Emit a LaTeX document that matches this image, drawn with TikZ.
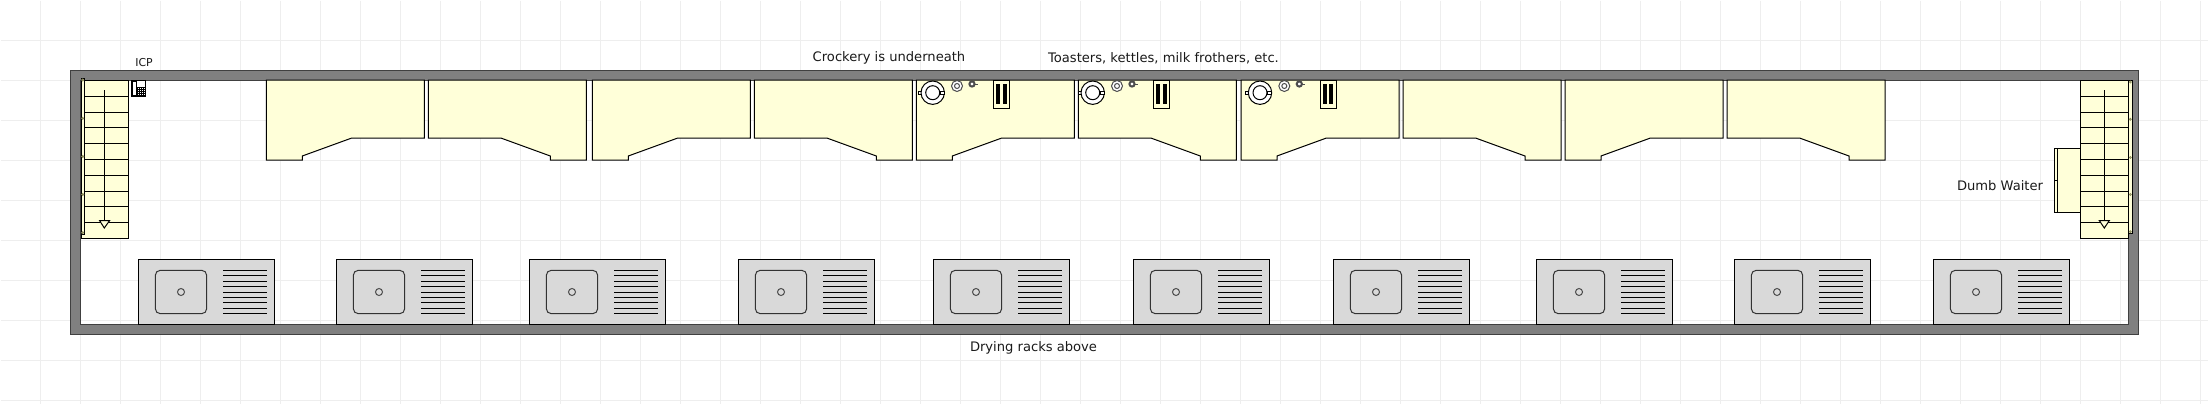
\documentclass[tikz,border=0pt]{standalone}
\usepackage{fontspec}
\setmainfont{DejaVu Sans}
\definecolor{wallc}{HTML}{808080}
\definecolor{walle}{HTML}{404040}
\definecolor{cream}{HTML}{FFFFD9}
\definecolor{sinkc}{HTML}{D9D9D9}
\definecolor{gridc}{HTML}{EEEEEE}
\definecolor{railc}{HTML}{8C8C5A}
\definecolor{txt}{HTML}{1A1A1A}
\tikzset{
 counter/.style={draw=black,fill=cream,line width=1pt},
 stairb/.style={draw=black,fill=cream,line width=1pt},
 thin1/.style={draw=black,line width=1pt},
 lbl/.style={text=txt,font=\fontsize{13.1}{15}\selectfont,inner sep=0pt},
}
\newcommand{\ctrL}[1]{\draw[counter,shift={(#1,80)}] (0,0)--(158,0)--(158,58)--(85.5,58)--(36,76)--(36,80)--(0,80)--cycle;}
\newcommand{\ctrR}[1]{\draw[counter,shift={(#1,80)}] (0,0)--(158,0)--(158,80)--(122,80)--(122,76)--(72.5,58)--(0,58)--cycle;}
\newcommand{\sinkU}[1]{\begin{scope}[shift={(#1,259.3)}]
 \draw[thin1,fill=sinkc] (0,0) rectangle (136,65);
 \draw[draw=black!80,line width=1pt,rounded corners=5pt] (17,11) rectangle (68.4,54.4);
 \draw[draw=black!70,line width=1pt] (42.7,32.7) circle (3.5);
 \foreach \yy in {11,16.4,21.8,27.2,32.7,38.1,43.5,48.9,54.4}{\draw[thin1] (84.7,\yy)--(128.7,\yy);}
\end{scope}}
\newcommand{\appl}[2]{% kettle x, toaster x
 \draw[black,line width=1pt,fill=white] (#1-14.3,91) rectangle +(3,3);
 \draw[black,line width=1pt,fill=white] (#1,92.7) circle (11.7);
 \draw[black,line width=1pt,fill=white] (#1,92.7) circle (7);
 \draw[black,line width=1pt,fill=white] (#1+7.7,91) rectangle +(4,3);
 \draw[black!70,line width=1pt,fill=white] (#1+24.3,86) circle (5.5);
 \draw[black!70,line width=1pt,fill=white] (#1+24.3,86) circle (2.5);
 \draw[black!70,line width=1pt] (#1+39.3,84)--(#1+45,84);
 \draw[black!70,line width=2pt,fill=white] (#1+39.3,84) circle (2.6);
 \draw[black,line width=1pt,fill=cream] (#2,80) rectangle +(15.5,28.3);
 \fill[black] (#2+2.6,84) rectangle +(4,20);
 \fill[black] (#2+8.8,84) rectangle +(4,20);
}
\begin{document}
\begin{tikzpicture}[x=1pt,y=-1pt]
\useasboundingbox (0,0) rectangle (2208,404);
\fill[white] (0,0) rectangle (2208,404);
% grid
\foreach \xx in {40.5,80.5,...,2205}{\draw[gridc,line width=1pt] (\xx,1)--(\xx,404);}
\foreach \yy in {40.5,80.5,...,403}{\draw[gridc,line width=1pt] (1,\yy)--(2208,\yy);}
% walls
\draw[draw=walle,fill=wallc,line width=1pt,even odd rule] (70.3,70.3) rectangle (2138.3,334.3) (80.7,80.3) rectangle (2128.3,324.3);
% counters
\ctrL{266.3}\ctrR{428.3}\ctrL{592.3}\ctrR{754.3}\ctrL{916.3}\ctrR{1078.3}\ctrL{1241}\ctrR{1403}\ctrL{1565}\ctrR{1727}
% appliances
\appl{932.7}{993.7}
\appl{1092.7}{1153.7}
\appl{1260}{1320.5}
% sinks
\foreach \sx in {138.3,336.3,529.3,738.3,933.3,1133.3,1333.3,1536.3,1734.3,1933.3}{\sinkU{\sx}}
% left stairs
\draw[stairb] (81,80.3) rectangle (128.3,238.3);
\foreach \yy in {96.3,112.3,127.3,143.4,159.4,175.4,191.3,206.3,222.3}{\draw[thin1] (84.5,\yy)--(128.3,\yy);}
\draw[thin1] (104.3,90)--(104.3,228);
\draw[thin1,fill=cream] (99.6,220.6)--(109.6,220.6)--(104.3,228)--cycle;
\draw[stairb] (81,78.5) rectangle (84.5,234.3);
\foreach \yy in {80,118.3,156.5,194.5,232.7}{\draw[railc,line width=.8pt,fill=white] (82.7,\yy) circle (1);}
% right stairs
\draw[stairb] (2054.3,148.3) rectangle (2080.3,212.3);
\draw[thin1] (2057.6,148.3)--(2057.6,212.3) (2054.3,180)--(2057.6,180);
\draw[stairb] (2080.3,80.3) rectangle (2128.3,238.3);
\foreach \yy in {96.3,112.3,127.3,143.4,159.4,175.4,191.3,206.3,222.3}{\draw[thin1] (2080.3,\yy)--(2128.3,\yy);}
\draw[thin1] (2104.3,90)--(2104.3,228);
\draw[thin1,fill=cream] (2099.3,220.6)--(2109.3,220.6)--(2104.3,228)--cycle;
\draw[stairb] (2128.3,80.3) rectangle (2132.3,233.3);
\foreach \yy in {82,119.3,157.5,194.5,231.7}{\draw[railc,line width=.8pt,fill=white] (2130.3,\yy) circle (1);}
% phone
\draw[black,line width=1pt,fill=white] (131.7,80.5) rectangle (145.7,96);
\draw[black,line width=1.3pt,fill=white] (132.4,81) rectangle (136.6,95.5);
\fill[black] (137,87.3) rectangle (145.9,96.3);
\foreach \px in {138.6,140.4,142.2,144}{\foreach \py in {88.8,90.6,92.4,94.2}{\fill[white] (\px-.45,\py-.45) rectangle +(.9,.9);}}
% labels
\node[lbl,font=\fontsize{10.9}{12}\selectfont] (icp) at (144,62.5) {ICP};
\node[lbl] (crock) at (889,58.3) {Crockery is underneath};
\node[lbl] (toast) at (1163.5,58.3) {Toasters, kettles, milk frothers, etc.};
\node[lbl] (dry) at (1033.5,347.6) {Drying racks above};
\node[lbl] (dumb) at (2000,185.7) {Dumb Waiter};
\end{tikzpicture}
\end{document}
